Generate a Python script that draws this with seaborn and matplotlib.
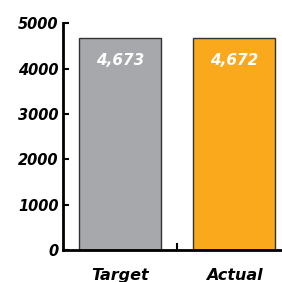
import pandas as pd
import matplotlib
matplotlib.use("Agg")
import matplotlib.pyplot as plt
import seaborn as sns

categories = ["Target", "Actual"]
values = [4673, 4672]
value_labels = ["4,673", "4,672"]
colors = ["#A7A8AB", "#FBA91C"]
yticks = [0, 1000, 2000, 3000, 4000, 5000]

sns.set_style("white")
plt.rcParams['font.family'] = ['DejaVu Sans']

df = pd.DataFrame({"category": categories, "value": values})

fig = plt.figure(figsize=(2.82, 2.82), dpi=100)
ax = fig.add_axes([0.223, 0.113, 0.777, 0.805])

sns.barplot(data=df, x="category", y="value", hue="category",
            palette=colors, saturation=1, width=0.72, edgecolor="#333333",
            linewidth=1, legend=False, ax=ax)

for i, lbl in enumerate(value_labels):
    ax.text(i, values[i] - 330, lbl, ha="center", va="top", color="white",
            fontsize=11, fontweight="bold", fontstyle="italic")

ax.set_xlim(-0.5, 1.42)
ax.set_ylim(0, 5000)
ax.set_yticks(yticks)
ax.set_yticklabels([str(t) for t in yticks], fontsize=10.5, color="black",
                   fontweight="bold", fontstyle="italic")
ax.set_xticks([0.5])
ax.set_xticklabels([""])
ax.set_xticks([0, 1], minor=True)
ax.set_xticklabels(categories, minor=True, fontsize=11.5, color="black",
                   fontweight="bold", fontstyle="italic")
ax.tick_params(axis="x", which="minor", bottom=True, length=0, pad=13)
ax.tick_params(axis="x", which="major", bottom=True, direction="in",
               length=5, width=1.5, color="black")
ax.tick_params(axis="y", left=True, direction="in", length=4, width=1.5,
               pad=3, color="black")
ax.set_xlabel("")
ax.set_ylabel("")

for s in ["top", "right"]:
    ax.spines[s].set_visible(False)
for s in ["left", "bottom"]:
    ax.spines[s].set_linewidth(2)
    ax.spines[s].set_color("black")

fig.savefig("out.png", dpi=100)
